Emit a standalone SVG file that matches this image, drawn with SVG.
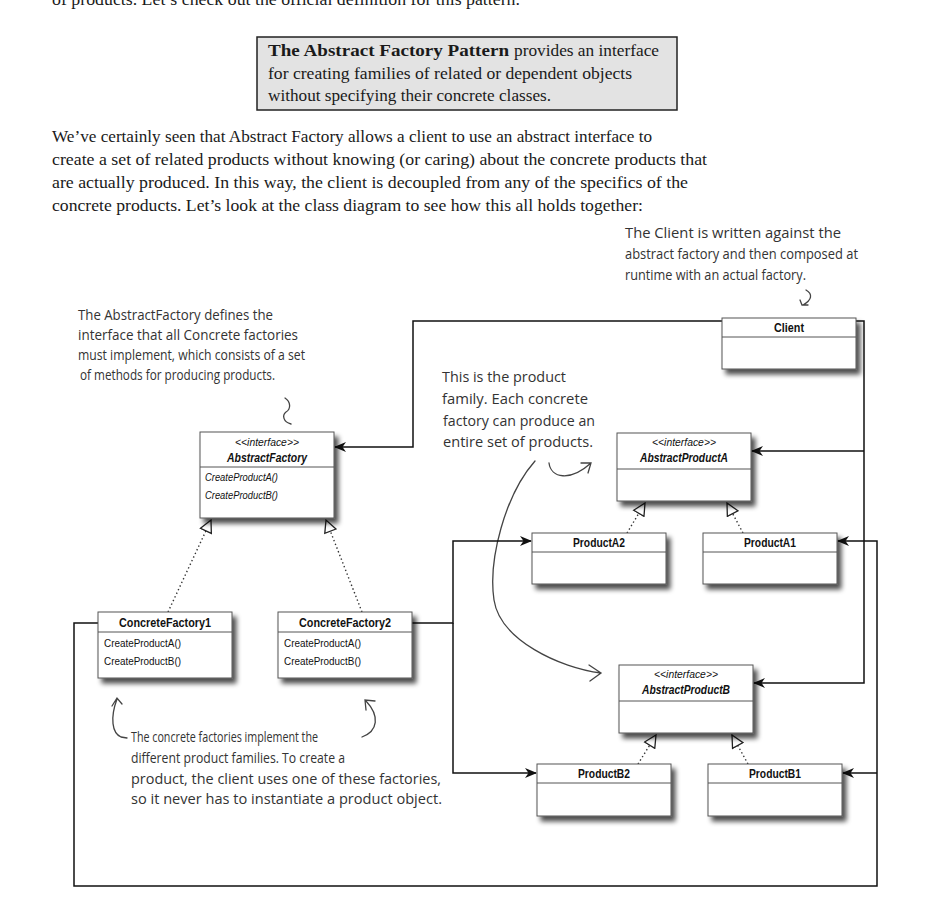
<svg xmlns="http://www.w3.org/2000/svg" width="934" height="909" viewBox="0 0 934 909">
<defs>
<style>
.ser{font-family:'Liberation Serif','DejaVu Serif',serif;fill:#1a1a1a}
.hand{font-family:'Open Sans','DejaVu Sans',sans-serif;font-size:14.5px;fill:#333}
.uml{font-family:'Liberation Sans Narrow','Liberation Sans',Arial,sans-serif;fill:#111}
.nm{font-size:12px;font-weight:bold}
.st{font-size:10.5px;font-style:italic}
.nmi{font-size:12px;font-weight:bold;font-style:italic}
.mt{font-size:10.5px}
.mti{font-size:10.5px;font-style:italic}
.box{fill:#fff;stroke:#555;stroke-width:1}
.div{stroke:#555;stroke-width:1}
.con{fill:none;stroke:#111;stroke-width:1.5}
.dot{fill:none;stroke:#333;stroke-width:1.4;stroke-dasharray:1.4 2.6}
.pen{fill:none;stroke:#444;stroke-width:1.3;stroke-linecap:round}
</style>
<filter id="sh" x="-10%" y="-15%" width="130%" height="150%">
<feGaussianBlur in="SourceAlpha" stdDeviation="2.5"/>
<feOffset dx="4" dy="5" result="b"/>
<feComponentTransfer><feFuncA type="linear" slope="0.7"/></feComponentTransfer>
<feMerge><feMergeNode/><feMergeNode in="SourceGraphic"/></feMerge>
</filter>
<marker id="arr" viewBox="0 0 12 10" refX="11" refY="5" markerWidth="12" markerHeight="10" markerUnits="userSpaceOnUse" orient="auto">
<path d="M0,0 L12,5 L0,10 L3.5,5 z" fill="#111"/>
</marker>
<marker id="tri" viewBox="0 0 14 14" refX="13" refY="7" markerWidth="14" markerHeight="14" markerUnits="userSpaceOnUse" orient="auto">
<path d="M1,1 L13,7 L1,13 z" fill="#fff" stroke="#222" stroke-width="1.3"/>
</marker>
</defs>
<rect width="934" height="909" fill="#fff"/>

<text class="ser" x="52" y="5" font-size="17" textLength="468" lengthAdjust="spacingAndGlyphs">of products. Let’s check out the official definition for this pattern.</text>

<g id="definition">
<rect x="257" y="37" width="420" height="73" fill="#e3e3e3" stroke="#222" stroke-width="1.5"/>
<text class="ser" x="268" y="56" font-size="16.5" font-weight="bold" textLength="241" lengthAdjust="spacingAndGlyphs">The Abstract Factory Pattern</text>
<text class="ser" x="514" y="56" font-size="16.5" textLength="145" lengthAdjust="spacingAndGlyphs">provides an interface</text>
<text class="ser" x="268" y="79" font-size="16.5" textLength="364" lengthAdjust="spacingAndGlyphs">for creating families of related or dependent objects</text>
<text class="ser" x="268" y="101" font-size="16.5" textLength="283" lengthAdjust="spacingAndGlyphs">without specifying their concrete classes.</text>
</g>

<g id="paragraph">
<text class="ser" x="52" y="142" font-size="17" textLength="600" lengthAdjust="spacingAndGlyphs">We’ve certainly seen that Abstract Factory allows a client to use an abstract interface to</text>
<text class="ser" x="52" y="165" font-size="17" textLength="655" lengthAdjust="spacingAndGlyphs">create a set of related products without knowing (or caring) about the concrete products that</text>
<text class="ser" x="52" y="188" font-size="17" textLength="636" lengthAdjust="spacingAndGlyphs">are actually produced.  In this way, the client is decoupled from any of the specifics of the</text>
<text class="ser" x="52" y="211" font-size="17" textLength="591" lengthAdjust="spacingAndGlyphs">concrete products.  Let’s look at the class diagram to see how this all holds together:</text>
</g>

<g id="note-client">
<text class="hand" x="625" y="238" textLength="216" lengthAdjust="spacingAndGlyphs">The Client is written against the</text>
<text class="hand" x="625" y="259" textLength="233" lengthAdjust="spacingAndGlyphs">abstract factory and then composed at</text>
<text class="hand" x="625" y="280" textLength="181" lengthAdjust="spacingAndGlyphs">runtime with an actual factory.</text>
<path class="pen" d="M806,290 C813,294 812,300 803,305 M800,300 L802,305 L808,305"/>
</g>

<g id="note-abstractfactory">
<text class="hand" x="78" y="320" textLength="195" lengthAdjust="spacingAndGlyphs">The AbstractFactory defines the</text>
<text class="hand" x="78" y="340" textLength="220" lengthAdjust="spacingAndGlyphs">interface that all Concrete factories</text>
<text class="hand" x="78" y="360" textLength="227" lengthAdjust="spacingAndGlyphs">must implement, which consists of a set</text>
<text class="hand" x="80" y="380" textLength="195" lengthAdjust="spacingAndGlyphs">of methods for producing products.</text>
<path class="pen" d="M285,398 C291,402 291,409 286,412 C282,415 283,422 291,424"/>
</g>

<g id="note-family">
<text class="hand" x="442" y="382" textLength="124" lengthAdjust="spacingAndGlyphs">This is the product</text>
<text class="hand" x="442" y="404" textLength="146" lengthAdjust="spacingAndGlyphs">family.  Each concrete</text>
<text class="hand" x="443" y="426" textLength="152" lengthAdjust="spacingAndGlyphs">factory can produce an</text>
<text class="hand" x="443" y="447" textLength="150" lengthAdjust="spacingAndGlyphs">entire set of products.</text>
<path class="pen" d="M549,463 C551,478 570,482 591,463 M581,463 L591,463 L588,473"/>
<path class="pen" d="M535,461 C505,495 488,560 494,600 C500,640 560,668 601,673 M589,665 L601,673 L590,681"/>
</g>

<g id="note-concrete">
<text class="hand" x="131" y="742" textLength="187" lengthAdjust="spacingAndGlyphs">The concrete factories implement the</text>
<text class="hand" x="131" y="763" textLength="214" lengthAdjust="spacingAndGlyphs">different product families.  To create a</text>
<text class="hand" x="131" y="784" textLength="310" lengthAdjust="spacingAndGlyphs">product, the client uses one of these factories,</text>
<text class="hand" x="131" y="804" textLength="311" lengthAdjust="spacingAndGlyphs">so it never has to instantiate a product object.</text>
<path class="pen" d="M127,738 L121,737 C112,733 110,718 117,699 M112,706 L117,698 L122,704"/>
<path class="pen" d="M362,737 C378,731 380,716 366,701 M366,710 L365,700 L375,701"/>
</g>

<g id="connectors">
<path class="con" d="M722,321 H413 V447 H335" marker-end="url(#arr)"/>
<path class="con" d="M856,321 H864 V683 H754" marker-end="url(#arr)"/>
<path class="con" d="M864,451 H752" marker-end="url(#arr)"/>
<path class="con" d="M412,623 H453 V541 H531" marker-end="url(#arr)"/>
<path class="con" d="M453,623 V773 H536" marker-end="url(#arr)"/>
<path class="con" d="M98,623 H74 V886 H877 V541 H838" marker-end="url(#arr)"/>
<path class="con" d="M877,773 H843" marker-end="url(#arr)"/>
<path class="dot" d="M168,612 L211,520" marker-end="url(#tri)"/>
<path class="dot" d="M362,612 L326,520" marker-end="url(#tri)"/>
<path class="dot" d="M627,533 L645,503" marker-end="url(#tri)"/>
<path class="dot" d="M743,533 L727,503" marker-end="url(#tri)"/>
<path class="dot" d="M638,764 L656,735" marker-end="url(#tri)"/>
<path class="dot" d="M748,764 L732,735" marker-end="url(#tri)"/>
</g>

<g id="Client">
<rect class="box" x="722" y="318" width="134" height="51" filter="url(#sh)"/>
<line class="div" x1="722" y1="337" x2="856" y2="337"/>
<text class="uml nm" x="789" y="332" text-anchor="middle" textLength="30" lengthAdjust="spacingAndGlyphs">Client</text>
</g>

<g id="AbstractFactory">
<rect class="box" x="200" y="432" width="134" height="86" filter="url(#sh)"/>
<line class="div" x1="200" y1="467" x2="334" y2="467"/>
<text class="uml st" x="267" y="446" text-anchor="middle" textLength="64" lengthAdjust="spacingAndGlyphs">&lt;&lt;interface&gt;&gt;</text>
<text class="uml nmi" x="267" y="462" text-anchor="middle" textLength="80" lengthAdjust="spacingAndGlyphs">AbstractFactory</text>
<text class="uml mti" x="205" y="481" textLength="73" lengthAdjust="spacingAndGlyphs">CreateProductA()</text>
<text class="uml mti" x="205" y="499" textLength="73" lengthAdjust="spacingAndGlyphs">CreateProductB()</text>
</g>

<g id="ConcreteFactory1">
<rect class="box" x="98" y="612" width="134" height="66" filter="url(#sh)"/>
<line class="div" x1="98" y1="632" x2="232" y2="632"/>
<text class="uml nm" x="165" y="627" text-anchor="middle" textLength="92" lengthAdjust="spacingAndGlyphs">ConcreteFactory1</text>
<text class="uml mt" x="104" y="647" textLength="77" lengthAdjust="spacingAndGlyphs">CreateProductA()</text>
<text class="uml mt" x="104" y="665" textLength="77" lengthAdjust="spacingAndGlyphs">CreateProductB()</text>
</g>

<g id="ConcreteFactory2">
<rect class="box" x="278" y="612" width="134" height="66" filter="url(#sh)"/>
<line class="div" x1="278" y1="632" x2="412" y2="632"/>
<text class="uml nm" x="345" y="627" text-anchor="middle" textLength="92" lengthAdjust="spacingAndGlyphs">ConcreteFactory2</text>
<text class="uml mt" x="284" y="647" textLength="77" lengthAdjust="spacingAndGlyphs">CreateProductA()</text>
<text class="uml mt" x="284" y="665" textLength="77" lengthAdjust="spacingAndGlyphs">CreateProductB()</text>
</g>

<g id="AbstractProductA">
<rect class="box" x="617" y="433" width="134" height="68" filter="url(#sh)"/>
<line class="div" x1="617" y1="469" x2="751" y2="469"/>
<text class="uml st" x="684" y="446" text-anchor="middle" textLength="64" lengthAdjust="spacingAndGlyphs">&lt;&lt;interface&gt;&gt;</text>
<text class="uml nmi" x="684" y="462" text-anchor="middle" textLength="88" lengthAdjust="spacingAndGlyphs">AbstractProductA</text>
</g>

<g id="ProductA2">
<rect class="box" x="532" y="533" width="134" height="51" filter="url(#sh)"/>
<line class="div" x1="532" y1="552" x2="666" y2="552"/>
<text class="uml nm" x="599" y="547" text-anchor="middle" textLength="52" lengthAdjust="spacingAndGlyphs">ProductA2</text>
</g>

<g id="ProductA1">
<rect class="box" x="703" y="533" width="134" height="51" filter="url(#sh)"/>
<line class="div" x1="703" y1="552" x2="837" y2="552"/>
<text class="uml nm" x="770" y="547" text-anchor="middle" textLength="52" lengthAdjust="spacingAndGlyphs">ProductA1</text>
</g>

<g id="AbstractProductB">
<rect class="box" x="619" y="665" width="134" height="68" filter="url(#sh)"/>
<line class="div" x1="619" y1="701" x2="753" y2="701"/>
<text class="uml st" x="686" y="678" text-anchor="middle" textLength="64" lengthAdjust="spacingAndGlyphs">&lt;&lt;interface&gt;&gt;</text>
<text class="uml nmi" x="686" y="694" text-anchor="middle" textLength="88" lengthAdjust="spacingAndGlyphs">AbstractProductB</text>
</g>

<g id="ProductB2">
<rect class="box" x="537" y="764" width="134" height="52" filter="url(#sh)"/>
<line class="div" x1="537" y1="783" x2="671" y2="783"/>
<text class="uml nm" x="604" y="778" text-anchor="middle" textLength="52" lengthAdjust="spacingAndGlyphs">ProductB2</text>
</g>

<g id="ProductB1">
<rect class="box" x="708" y="764" width="134" height="52" filter="url(#sh)"/>
<line class="div" x1="708" y1="783" x2="842" y2="783"/>
<text class="uml nm" x="775" y="778" text-anchor="middle" textLength="52" lengthAdjust="spacingAndGlyphs">ProductB1</text>
</g>
</svg>
